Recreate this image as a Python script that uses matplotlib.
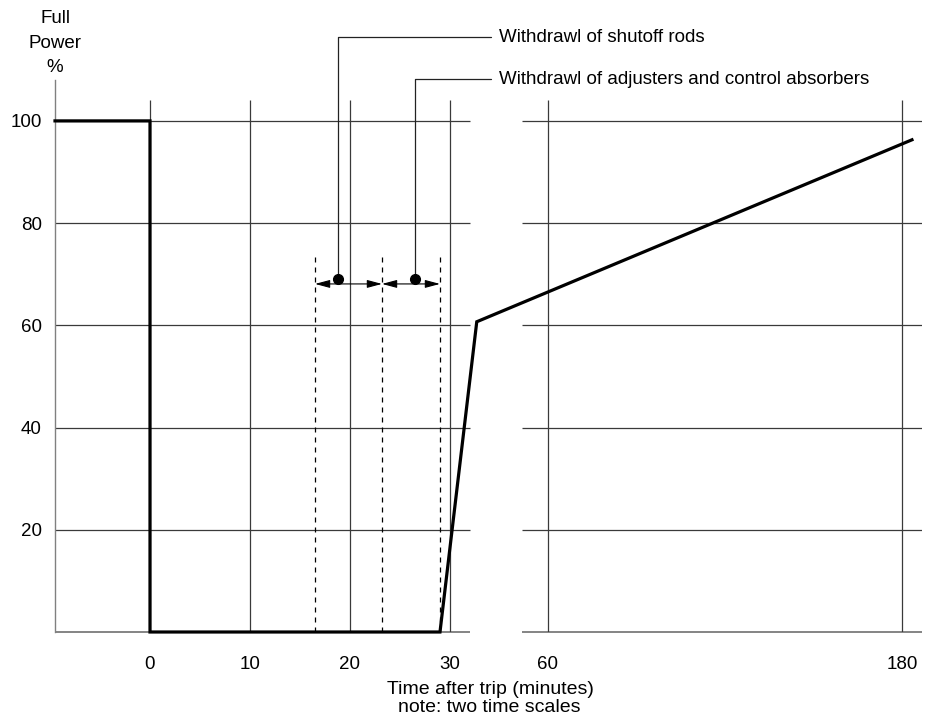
import numpy as np
import matplotlib
matplotlib.use("Agg")
import matplotlib.pyplot as plt

plt.rcParams['font.family'] = ['Liberation Sans', 'DejaVu Sans']

# ---- data ----
time_min = [-9.5, 0, 0, 29, 34.5, 183.4]
power_pct = [100, 100, 0, 0, 60.7, 96.3]

y_ticks = [20, 40, 60, 80, 100]
x_ticks = [0, 10, 20, 30, 60, 180]
x_ticklabels = ["0", "10", "20", "30", "60", "180"]

window_edges = [16.5, 23.2, 29.0]
event_times = [18.8, 26.5]
event_level = 69.0
arrow_level = 68.1
event_labels = ["Withdrawl of shutoff rods",
                "Withdrawl of adjusters and control absorbers"]

# ---- piecewise (two time scales) ----
LEFT_END = 32.0
RIGHT_START = 51.2
RIGHT_END = 186.8
X_START = -9.5
U_GAP_END = 37.2
SLOPE = 0.295
xs_b = np.array([-1000.0, LEFT_END, RIGHT_START, 1000.0])
us_b = np.array([-1000.0, LEFT_END, U_GAP_END, U_GAP_END + (1000.0 - RIGHT_START) * SLOPE])


def fwd(x):
    return np.interp(x, xs_b, us_b)


def inv(u):
    return np.interp(u, us_b, xs_b)


FS = 13.5
fig = plt.figure(figsize=(9.47, 7.15), dpi=100)
W, H = 947, 715
ax_l, ax_r, ax_b, ax_t = 55, 922, 632, 80
ax = fig.add_axes([ax_l / W, 1 - ax_b / H, (ax_r - ax_l) / W, (ax_b - ax_t) / H])
ax.set_xscale('function', functions=(fwd, inv))
ax.set_xlim(X_START, RIGHT_END)
ax.set_ylim(0, 108)

for s in ['top', 'right', 'bottom']:
    ax.spines[s].set_visible(False)
ax.spines['left'].set_color('#808080')
ax.spines['left'].set_linewidth(1.0)

grid_c = '#3a3a3a'
segments = [(X_START, LEFT_END), (RIGHT_START, RIGHT_END)]
for (a, b) in segments:
    ax.hlines(y_ticks, a, b, color=grid_c, lw=0.9, zorder=1)
    ax.hlines([0], a, b, color='#707070', lw=1.2, zorder=1, clip_on=False)
ax.vlines(x_ticks, 0, 104, color=grid_c, lw=0.9, zorder=1)

# dashed window edges
ax.vlines(window_edges, 0, 73.6, color='black', lw=0.9,
          linestyles=(0, (4, 4)), zorder=2)

# double-headed arrows between window edges
for a, b in zip(window_edges[:-1], window_edges[1:]):
    ax.annotate('', xy=(b, arrow_level), xytext=(a, arrow_level),
                arrowprops=dict(arrowstyle='<|-|>,head_length=0.6,head_width=0.16',
                                color='black', lw=0.8, shrinkA=0, shrinkB=0,
                                mutation_scale=15), zorder=3)

# event dots
ax.plot(event_times, [event_level] * len(event_times), 'o', color='black',
        ms=7, zorder=4, clip_on=False)

# leader lines with labels
text_y = [(ax_b - 37) / (ax_b - ax_t), (ax_b - 79) / (ax_b - ax_t)]
text_x = (499 - ax_l) / (ax_r - ax_l)
for t, lbl, ty in zip(event_times, event_labels, text_y):
    ax.annotate(lbl, xy=(t, event_level), xycoords='data',
                xytext=(text_x, ty), textcoords='axes fraction',
                ha='left', va='center', fontsize=FS,
                arrowprops=dict(arrowstyle='-', color='#222222', lw=0.9,
                                connectionstyle='angle,angleA=0,angleB=90,rad=0',
                                shrinkA=4, shrinkB=0),
                annotation_clip=False, zorder=3)

# power curve
ax.plot(time_min, power_pct, color='black', lw=2.3, zorder=5,
        solid_joinstyle='miter', clip_on=False)

ax.set_xticks(x_ticks)
ax.set_xticklabels(x_ticklabels)
ax.set_yticks(y_ticks)
ax.tick_params(axis='both', length=0, labelsize=FS, colors='black')
ax.tick_params(axis='x', pad=17)
ax.tick_params(axis='y', pad=9.4)
ax.xaxis.set_minor_locator(matplotlib.ticker.NullLocator())

fig.text(55 / W, 1 - 43 / H, "Full\nPower\n%", ha='center', va='center',
         fontsize=FS, linespacing=1.55, multialignment='center')
fig.text(490 / W, 1 - 690 / H, "Time after trip (minutes)", ha='center',
         va='center', fontsize=14)
fig.text(489 / W, 1 - 708 / H, "note: two time scales", ha='center',
         va='center', fontsize=14)

fig.savefig('out.png', dpi=100)
